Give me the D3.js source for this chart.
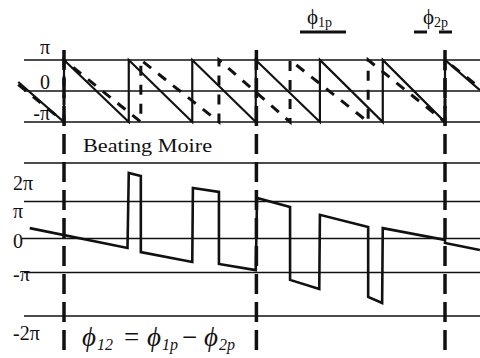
<!DOCTYPE html>
<html>
<head>
<meta charset="utf-8">
<script src="https://cdn.jsdelivr.net/npm/d3@7"></script>
<style>
  body { margin: 0; background: #fff; }
  svg { display: block; }
  text { font-family: "Liberation Serif", "DejaVu Serif", serif; fill: #111; }
</style>
</head>
<body>
<div id="chart"></div>
<script>
// position in units of the phi1p period, phase in units of pi
const phi1X = [-0.72, 0, 0, 1.02, 1.02, 2.02, 2.02, 3.02, 3.02, 4.03, 4.03, 5.02, 5.02, 6, 6, 6.55];
const phi1Y = [0.29, -1, 1, -1, 1, -1, 1, -1, 1, -1, 1, -1, 1, -1, 1, 0.03];

const phi2X = [-0.72, 0, 0, 1.21, 1.21, 2.44, 2.44, 3.56, 3.56, 4.79, 4.79, 6, 6, 6.55];
const phi2Y = [0.21, -1, 1, -1, 1, -1, 1, -1, 1, -1, 1, -1, 1, 0.1];

const beatX = [-0.54, 1.0, 1.02, 1.21, 1.21, 2.02, 2.03, 2.44, 2.44, 3.02, 3.04, 3.56, 3.56,
               4.02, 4.03, 4.79, 4.79, 5.01, 5.02, 6.0, 6.0, 6.55];
const beatY = [0.28, -0.28, 1.74, 1.66, -0.40, -0.69, 1.35, 1.25, -0.75, -0.93, 1.09, 0.85, -1.17,
               -1.38, 0.64, 0.31, -1.56, -1.70, 0.28, -0.04, -0.13, -0.34];

const markerX = [0, 3.03, 6];

const topTicks = [1, 0, -1];
const topLabels = ['π', '0', '-π'];
const bottomTicks = [2, 1, 0, -1, -2];
const bottomLabels = ['2π', 'π', '0', '-π', '-2π'];

const width = 480, height = 358;

const svg = d3.select('#chart').append('svg')
  .attr('width', width)
  .attr('height', height);

const x = d3.scaleLinear().domain([0, 6]).range([64, 445]);
const yTop = d3.scaleLinear().domain([-1, 1]).range([122, 60]);
// the scanned grid is not evenly spaced
const yBot = d3.scaleLinear().domain([-2, -1, 0, 1, 2]).range([316, 272.5, 238.5, 201.5, 163]);

const ink = '#111';

// grid lines
svg.append('g').selectAll('line')
  .data(topTicks)
  .join('line')
  .attr('x1', 24).attr('x2', width)
  .attr('y1', d => yTop(d)).attr('y2', d => yTop(d))
  .attr('stroke', ink).attr('stroke-width', 1.5);

svg.append('g').selectAll('line')
  .data(bottomTicks)
  .join('line')
  .attr('x1', d => d === 0 ? 22 : 24).attr('x2', width)
  .attr('y1', d => yBot(d)).attr('y2', d => yBot(d))
  .attr('stroke', ink).attr('stroke-width', 1.5);

// tick labels
const topDy = [-6, -2, -2];
svg.append('g').selectAll('text')
  .data(topTicks)
  .join('text')
  .attr('x', 50)
  .attr('y', (d, i) => yTop(d) + topDy[i])
  .attr('text-anchor', 'end')
  .attr('font-size', 20)
  .text((d, i) => topLabels[i]);

const botDy = [27, 16, 9, 8, 24];
svg.append('g').selectAll('text')
  .data(bottomTicks)
  .join('text')
  .attr('x', 13)
  .attr('y', (d, i) => yBot(d) + botDy[i])
  .attr('font-size', 20)
  .text((d, i) => bottomLabels[i]);

// vertical dashed markers
svg.append('g').selectAll('line')
  .data(markerX)
  .join('line')
  .attr('x1', d => x(d)).attr('x2', d => x(d))
  .attr('y1', 50).attr('y2', height)
  .attr('stroke', ink).attr('stroke-width', 3.5)
  .attr('stroke-dasharray', '20,8');

const lineTop = d3.line().x(d => x(d[0])).y(d => yTop(d[1]));
const lineBot = d3.line().x(d => x(d[0])).y(d => yBot(d[1]));

// phi1p solid sawtooth
svg.append('path')
  .attr('d', lineTop(d3.zip(phi1X, phi1Y)))
  .attr('fill', 'none').attr('stroke', ink).attr('stroke-width', 2.2);

// phi2p dashed sawtooth
svg.append('path')
  .attr('d', lineTop(d3.zip(phi2X, phi2Y)))
  .attr('fill', 'none').attr('stroke', ink).attr('stroke-width', 3)
  .attr('stroke-dasharray', '10,9');

// beating moire phase difference
svg.append('path')
  .attr('d', lineBot(d3.zip(beatX, beatY)))
  .attr('fill', 'none').attr('stroke', ink).attr('stroke-width', 2.6)
  .attr('stroke-linejoin', 'miter');

// legend
svg.append('line')
  .attr('x1', 300).attr('x2', 346).attr('y1', 32).attr('y2', 32)
  .attr('stroke', ink).attr('stroke-width', 3);
const l1 = svg.append('text').attr('x', 307).attr('y', 24).attr('font-size', 21);
l1.append('tspan').text('ϕ');
l1.append('tspan').attr('font-size', 14).attr('dy', 3).text('1p');

svg.append('line')
  .attr('x1', 414).attr('x2', 453).attr('y1', 32).attr('y2', 32)
  .attr('stroke', ink).attr('stroke-width', 3)
  .attr('stroke-dasharray', '13,12');
const l2 = svg.append('text').attr('x', 423).attr('y', 24).attr('font-size', 21);
l2.append('tspan').text('ϕ');
l2.append('tspan').attr('font-size', 14).attr('dy', 3).text('2p');

svg.append('text')
  .attr('x', 83).attr('y', 152)
  .attr('font-size', 19)
  .attr('textLength', 129).attr('lengthAdjust', 'spacingAndGlyphs')
  .text('Beating Moire');

// formula: phi12 = phi1p - phi2p
const f = svg.append('text').attr('y', 346)
  .attr('font-size', 27).attr('font-style', 'italic');
f.append('tspan').attr('x', 82).text('ϕ');
f.append('tspan').attr('x', 97).attr('font-size', 16).attr('dy', 4).text('12');
f.append('tspan').attr('x', 124).attr('dy', -4).attr('font-style', 'normal').text('=');
f.append('tspan').attr('x', 147).text('ϕ');
f.append('tspan').attr('x', 162).attr('font-size', 16).attr('dy', 4).text('1p');
f.append('tspan').attr('x', 182).attr('dy', -4).attr('font-style', 'normal').text('−');
f.append('tspan').attr('x', 204).text('ϕ');
f.append('tspan').attr('x', 219).attr('font-size', 16).attr('dy', 4).text('2p');
</script>
</body>
</html>
